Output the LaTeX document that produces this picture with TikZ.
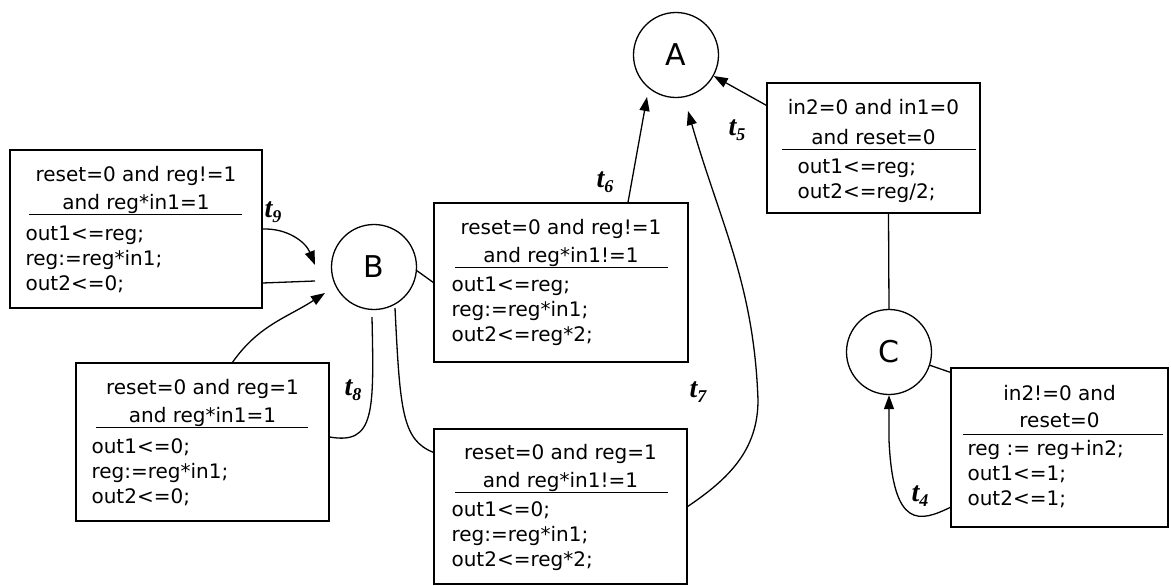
\documentclass[tikz,border=0pt]{standalone}
\usepackage{fontspec}
\setmainfont{DejaVu Sans}
\newfontfamily\lblfont{Liberation Serif}
\usetikzlibrary{arrows.meta,calc}
\tikzset{
  state/.style={draw, circle, line width=1.3pt, minimum size=85pt, inner sep=0pt, font=\fontsize{30}{30}\selectfont},
  tbox/.style={draw, rectangle, line width=1.3pt, inner sep=0pt},
  hdr/.style={inner sep=0pt, anchor=base, font=\fontsize{20}{25}\selectfont},
  bodytxt/.style={inner sep=0pt, anchor=base west, align=left, font=\fontsize{20}{25}\selectfont},
  conn/.style={line width=1.3pt},
  arr/.style={conn, -{Triangle[length=14pt,width=10pt]}},
  tl/.style={inner sep=0pt, font=\lblfont\bfseries\itshape\fontsize{28}{28}\selectfont},
}
\newcommand\tsub[1]{t\raisebox{-5pt}{\fontsize{18}{18}\selectfont #1}}
\begin{document}
\begin{tikzpicture}[x=1pt,y=1pt]
\useasboundingbox (0,0) rectangle (1171,-586);
% states
\node[state] (A) at (676,-55) {A};
\node[state] (B) at (374,-267) {B};
\node[state] (C) at (889,-352) {C};

% box t9
\node[tbox, minimum width=252pt, minimum height=158pt] (b9) at (136,-229) {};
\node[hdr] (b9h1) at ($(b9.north)+(0,-32)$) {reset=0 and reg!=1};
\node[hdr] (b9h2) at ($(b9.north)+(0,-60)$) {and reg*in1=1};
\draw[conn] ($(b9.north west)+(20,-65)$) -- ($(b9.north east)+(-21,-65)$);
\node[bodytxt] (b9t) at ($(b9.north west)+(16,-141)$) {out1<=reg;\\reg:=reg*in1;\\out2<=0;};

% box t8
\node[tbox, minimum width=253pt, minimum height=158pt] (b8) at (202.5,-442) {};
\node[hdr] (b8h1) at ($(b8.north)+(0,-32)$) {reset=0 and reg=1};
\node[hdr] (b8h2) at ($(b8.north)+(0,-60)$) {and reg*in1=1};
\draw[conn] ($(b8.north west)+(21,-65)$) -- ($(b8.north east)+(-22,-65)$);
\node[bodytxt] (b8t) at ($(b8.north west)+(16,-141)$) {out1<=0;\\reg:=reg*in1;\\out2<=0;};

% box t6
\node[tbox, minimum width=254pt, minimum height=159pt] (b6) at (561,-282.5) {};
\node[hdr] (b6h1) at ($(b6.north)+(0,-32)$) {reset=0 and reg!=1};
\node[hdr] (b6h2) at ($(b6.north)+(0,-60)$) {and reg*in1!=1};
\draw[conn] ($(b6.north west)+(22,-65)$) -- ($(b6.north east)+(-21,-65)$);
\node[bodytxt] (b6t) at ($(b6.north west)+(18,-139)$) {out1<=reg;\\reg:=reg*in1;\\out2<=reg*2;};

% box t7
\node[tbox, minimum width=253pt, minimum height=155pt] (b7) at (560.5,-506.5) {};
\node[hdr] (b7h1) at ($(b7.north)+(0,-31)$) {reset=0 and reg=1};
\node[hdr] (b7h2) at ($(b7.north)+(0,-59)$) {and reg*in1!=1};
\draw[conn] ($(b7.north west)+(22,-64)$) -- ($(b7.north east)+(-20,-64)$);
\node[bodytxt] (b7t) at ($(b7.north west)+(18,-138)$) {out1<=0;\\reg:=reg*in1;\\out2<=reg*2;};

% box t5
\node[tbox, minimum width=213pt, minimum height=130pt] (b5) at (873.5,-148) {};
\node[hdr] (b5h1) at ($(b5.north)+(0,-32)$) {in2=0 and in1=0};
\node[hdr] (b5h2) at ($(b5.north)+(0,-62)$) {and reset=0};
\draw[conn] ($(b5.north west)+(16,-67)$) -- ($(b5.north east)+(-5,-67)$);
\node[bodytxt] (b5t) at ($(b5.north west)+(31,-116)$) {out1<=reg;\\out2<=reg/2;};

% box t4
\node[tbox, minimum width=217pt, minimum height=159pt] (b4) at (1059.5,-447.5) {};
\node[hdr] (b4h1) at ($(b4.north)+(0,-33)$) {in2!=0 and};
\node[hdr] (b4h2) at ($(b4.north)+(0,-60)$) {reset=0};
\draw[conn] ($(b4.north west)+(13,-67)$) -- ($(b4.north east)+(-6,-67)$);
\node[bodytxt] (b4t) at ($(b4.north west)+(17,-138)$) {reg := reg+in2;\\out1<=1;\\out2<=1;};

% coordinates of free ends
\coordinate (t9tip) at (315,-265);
\coordinate (t9end) at (315,-281);
\coordinate (t8tip) at (325,-293);
\coordinate (t8start) at (372,-317);
\coordinate (t6tip) at (647,-97);
\coordinate (t7start) at (395,-308);
\coordinate (t7tip) at (688,-111);

% t9
\draw[arr] (b9.east) to[out=2, in=112] (t9tip);
\draw[conn] ($(b9.east)+(0,-54)$) -- (t9end);
% t8
\draw[arr] ($(b8.north)+(30,0)$) to[out=55, in=213] (t8tip);
\draw[conn] (t8start) .. controls (374,-412) and (375,-445) .. ($(b8.east)+(0,5)$);
% t6
\draw[conn] (B.-5) -- (b6.west);
\draw[arr] ($(b6.north)+(67,0)$) -- (t6tip);
% t7
\draw[conn] (t7start) .. controls (400,-410) and (402,-440) .. ($(b7.north west)+(0,-24)$);
\draw[arr] (b7.east) to[out=34, in=-90] (758,-400) to[out=92, in=-74] (t7tip);
% t5
\draw[arr] ($(b5.north west)+(0,-23)$) -- (A);
\draw[conn] ($(b5.south)+(15,0)$) -- (C.north);
% t4
\draw[conn] (C.-18) -- ($(b4.north west)+(0,-5)$);
\draw[arr] ($(b4.north west)+(0,-140)$) .. controls (920,-522) and (893,-530) .. (889,-440) -- (C.south);

% labels
\node[tl] (l9) at (273,-212) {\tsub{9}};
\node[tl] (l8) at (353,-390) {\tsub{8}};
\node[tl] (l6) at (605,-182) {\tsub{6}};
\node[tl] (l5) at (737,-130) {\tsub{5}};
\node[tl] (l7) at (698,-392) {\tsub{7}};
\node[tl] (l4) at (920,-496) {\tsub{4}};
\end{tikzpicture}
\end{document}
